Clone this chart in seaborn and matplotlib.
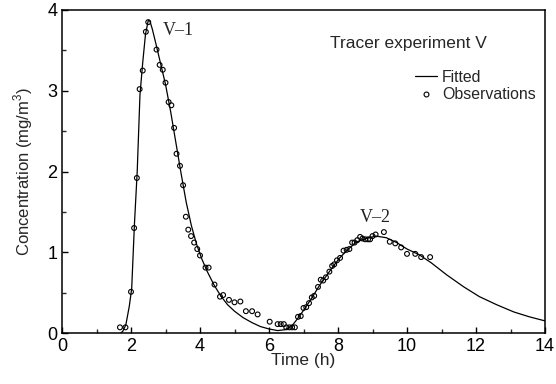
import matplotlib
matplotlib.use("Agg")
import matplotlib.pyplot as plt
import seaborn as sns
import pandas as pd
from matplotlib.lines import Line2D
from matplotlib.ticker import MultipleLocator

# Fitted curve
fit_t = [1.70, 1.76, 1.85, 1.95, 2.02, 2.10, 2.18, 2.26, 2.34, 2.42, 2.50, 2.55,
         2.62, 2.74, 2.85, 3.00, 3.15, 3.30, 3.45, 3.60, 3.75, 3.90, 4.05, 4.20,
         4.40, 4.60, 4.80, 5.00, 5.25, 5.50, 5.75, 6.00, 6.25, 6.45, 6.65, 6.85,
         7.05, 7.25, 7.45, 7.65, 7.85, 8.05, 8.30, 8.55, 8.80, 9.10, 9.40, 9.70,
         10.00, 10.35, 10.70, 11.15, 11.65, 12.10, 12.60, 13.10, 13.55, 14.00]
fit_c = [0.00, 0.02, 0.10, 0.33, 0.55, 1.35, 2.00, 2.95, 3.35, 3.70, 3.87, 3.86,
         3.76, 3.55, 3.35, 3.08, 2.74, 2.36, 1.98, 1.62, 1.33, 1.10, 0.92, 0.77,
         0.60, 0.46, 0.35, 0.27, 0.19, 0.13, 0.08, 0.05, 0.03, 0.04, 0.08, 0.19,
         0.31, 0.44, 0.58, 0.70, 0.82, 0.93, 1.04, 1.13, 1.17, 1.20, 1.18, 1.12,
         1.04, 0.97, 0.87, 0.72, 0.57, 0.45, 0.35, 0.26, 0.20, 0.15]

# Observations
obs_t = [1.68, 1.84, 2.00, 2.09, 2.17, 2.25, 2.34, 2.43, 2.50, 2.74, 2.83, 2.92,
         3.00, 3.09, 3.17, 3.25, 3.32, 3.42, 3.51, 3.59, 3.66, 3.74, 3.83, 3.92,
         4.00, 4.16, 4.25, 4.42, 4.58, 4.67, 4.84, 5.00, 5.17, 5.33, 5.51, 5.67,
         6.02, 6.25, 6.34, 6.43, 6.50, 6.59, 6.67, 6.75, 6.84, 6.92, 7.00, 7.08,
         7.16, 7.24, 7.31, 7.42, 7.50, 7.57, 7.65, 7.75, 7.83, 7.89, 7.97, 8.06,
         8.16, 8.25, 8.33, 8.41, 8.48, 8.56, 8.64, 8.71, 8.79, 8.87, 8.93, 9.00,
         9.09, 9.33, 9.50, 9.66, 9.83, 10.00, 10.24, 10.41, 10.67]
obs_c = [0.07, 0.07, 0.51, 1.30, 1.92, 3.02, 3.25, 3.73, 3.85, 3.51, 3.32, 3.26,
         3.10, 2.86, 2.82, 2.54, 2.22, 2.07, 1.83, 1.44, 1.28, 1.20, 1.12, 1.04,
         0.96, 0.81, 0.81, 0.60, 0.45, 0.47, 0.41, 0.38, 0.39, 0.27, 0.27, 0.23,
         0.14, 0.11, 0.11, 0.11, 0.07, 0.07, 0.07, 0.07, 0.20, 0.21, 0.31, 0.32,
         0.37, 0.44, 0.46, 0.57, 0.66, 0.65, 0.69, 0.76, 0.83, 0.85, 0.90, 0.93,
         1.02, 1.03, 1.04, 1.12, 1.12, 1.15, 1.19, 1.17, 1.16, 1.16, 1.16, 1.20,
         1.22, 1.25, 1.13, 1.11, 1.06, 0.98, 0.98, 0.94, 0.94]

x_ticks = [0, 2, 4, 6, 8, 10, 12, 14]
y_ticks = [0, 1, 2, 3, 4]

sns.set_style("ticks")
plt.rcParams['font.family'] = ['Liberation Sans', 'DejaVu Sans']
plt.rcParams['mathtext.fontset'] = 'custom'
plt.rcParams['mathtext.rm'] = 'Liberation Sans'

fig = plt.figure(figsize=(5.56, 3.84), dpi=100)
ax = fig.add_axes([62/556, 51/384, 483/556, 323/384])

fit_df = pd.DataFrame({"t": fit_t, "c": fit_c})
obs_df = pd.DataFrame({"t": obs_t, "c": obs_c})

sns.lineplot(data=fit_df, x="t", y="c", ax=ax, color="black", linewidth=0.9,
             sort=False, estimator=None)
sns.scatterplot(data=obs_df, x="t", y="c", ax=ax, marker="o", s=12,
                facecolor="none", edgecolor="black", linewidth=0.8, zorder=3)

ax.set_xlim(0, 14)
ax.set_ylim(0, 4)
ax.set_xticks(x_ticks)
ax.set_yticks(y_ticks)
ax.xaxis.set_minor_locator(MultipleLocator(1))
ax.yaxis.set_minor_locator(MultipleLocator(0.5))
ax.tick_params(which="major", direction="in", length=4.5, width=1.0,
               labelsize=13, colors="black", pad=3.5)
ax.tick_params(which="minor", direction="in", length=3, width=1.0)
for sp in ax.spines.values():
    sp.set_visible(True)
    sp.set_linewidth(1.1)
    sp.set_color("black")

ax.set_xlabel("Time (h)", fontsize=12.5, labelpad=-1)
ax.set_ylabel(r"Concentration (mg/m$^3$)", fontsize=12, labelpad=9)

ax.text(2.93, 3.74, "V\u20131", family="Liberation Serif", fontsize=13,
        va="center", ha="left", color="#222222")
ax.text(8.64, 1.43, "V\u20132", family="Liberation Serif", fontsize=13,
        va="center", ha="left", color="#222222")
ax.text(7.77, 3.59, "Tracer experiment V", fontsize=12.5, va="center", ha="left")

handles = [Line2D([], [], color="black", linewidth=0.9),
           Line2D([], [], color="black", marker="o", linestyle="none",
                  markerfacecolor="none", markersize=3.5, markeredgewidth=0.8)]
ax.legend(handles, ["Fitted", "Observations"], loc="upper left",
          bbox_to_anchor=(0.731, 0.815), frameon=False, fontsize=11.4,
          handlelength=1.4, handletextpad=0.3, labelspacing=0.15,
          borderpad=0, borderaxespad=0)

fig.savefig("out.png", dpi=100)
